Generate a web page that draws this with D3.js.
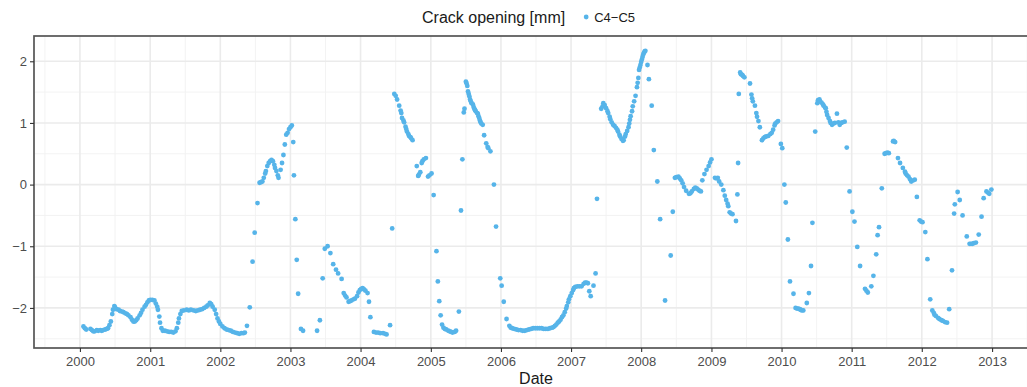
<!DOCTYPE html>
<html>
<head>
<meta charset="utf-8">
<script src="https://cdn.jsdelivr.net/npm/d3@7"></script>
<style>
  html, body { margin: 0; padding: 0; background: #ffffff; }
  svg { display: block; font-family: "Liberation Sans", Arial, sans-serif; }
</style>
</head>
<body>
<svg id="chart" width="1027" height="387"></svg>
<script>
// Crack opening readings for the C4-C5 gauge: [decimal year, opening in mm]
const c4c5 = [
  [2000.05,-2.30],[2000.07,-2.33],[2000.09,-2.35],[2000.15,-2.34],[2000.17,-2.36],[2000.19,-2.38],
  [2000.21,-2.38],[2000.24,-2.36],[2000.26,-2.37],[2000.29,-2.36],[2000.31,-2.37],[2000.33,-2.36],
  [2000.36,-2.35],[2000.38,-2.34],[2000.40,-2.33],[2000.42,-2.28],[2000.44,-2.22],[2000.46,-2.10],
  [2000.47,-2.03],[2000.49,-1.97],[2000.50,-1.99],[2000.52,-2.02],[2000.55,-2.03],[2000.57,-2.05],
  [2000.60,-2.06],[2000.62,-2.07],[2000.65,-2.09],[2000.67,-2.10],[2000.69,-2.12],[2000.72,-2.15],
  [2000.74,-2.19],[2000.76,-2.22],[2000.78,-2.22],[2000.80,-2.20],[2000.82,-2.17],[2000.85,-2.12],
  [2000.87,-2.08],[2000.89,-2.03],[2000.92,-1.98],[2000.94,-1.95],[2000.96,-1.91],[2000.98,-1.88],
  [2001.00,-1.87],[2001.03,-1.87],[2001.06,-1.88],[2001.08,-1.93],[2001.10,-1.98],[2001.11,-2.03],
  [2001.13,-2.14],[2001.14,-2.24],[2001.16,-2.33],[2001.18,-2.37],[2001.21,-2.37],[2001.24,-2.38],
  [2001.27,-2.39],[2001.30,-2.39],[2001.33,-2.40],[2001.36,-2.38],[2001.38,-2.33],[2001.40,-2.24],
  [2001.41,-2.17],[2001.43,-2.10],[2001.45,-2.05],[2001.48,-2.04],[2001.52,-2.03],[2001.55,-2.04],
  [2001.58,-2.03],[2001.62,-2.04],[2001.65,-2.05],[2001.68,-2.04],[2001.71,-2.03],[2001.74,-2.02],
  [2001.77,-2.00],[2001.80,-1.98],[2001.82,-1.96],[2001.85,-1.92],[2001.87,-1.94],[2001.89,-1.98],
  [2001.92,-2.03],[2001.94,-2.10],[2001.96,-2.17],[2001.98,-2.22],[2002.00,-2.26],[2002.03,-2.30],
  [2002.06,-2.33],[2002.09,-2.35],[2002.12,-2.36],[2002.15,-2.37],[2002.18,-2.39],[2002.21,-2.40],
  [2002.24,-2.41],[2002.27,-2.42],[2002.30,-2.41],[2002.33,-2.41],[2002.35,-2.40],[2002.38,-2.29],
  [2002.42,-1.99],[2002.46,-1.25],[2002.49,-0.78],[2002.53,-0.30],[2002.56,0.03],[2002.58,0.04],
  [2002.60,0.05],[2002.62,0.11],[2002.64,0.18],[2002.65,0.22],[2002.67,0.30],[2002.69,0.35],
  [2002.71,0.38],[2002.73,0.40],[2002.75,0.38],[2002.77,0.32],[2002.78,0.27],[2002.80,0.22],
  [2002.82,0.15],[2002.83,0.11],[2002.86,0.24],[2002.88,0.35],[2002.90,0.48],[2002.92,0.65],
  [2002.94,0.81],[2002.96,0.84],[2002.98,0.90],[2003.00,0.93],[2003.02,0.96],[2003.04,0.69],
  [2003.05,0.15],[2003.07,-0.56],[2003.09,-1.22],[2003.11,-1.77],[2003.15,-2.34],[2003.18,-2.37],
  [2003.38,-2.37],[2003.42,-2.20],[2003.46,-1.52],[2003.49,-1.04],[2003.53,-1.00],[2003.57,-1.11],
  [2003.61,-1.29],[2003.65,-1.38],[2003.68,-1.44],[2003.73,-1.53],[2003.76,-1.76],[2003.78,-1.80],
  [2003.80,-1.83],[2003.83,-1.90],[2003.85,-1.89],[2003.87,-1.88],[2003.90,-1.86],[2003.92,-1.85],
  [2003.95,-1.81],[2003.97,-1.75],[2003.99,-1.71],[2004.01,-1.69],[2004.03,-1.68],[2004.05,-1.70],
  [2004.07,-1.72],[2004.10,-1.76],[2004.12,-1.90],[2004.14,-2.15],[2004.19,-2.39],[2004.22,-2.40],
  [2004.25,-2.40],[2004.28,-2.41],[2004.32,-2.41],[2004.35,-2.42],[2004.37,-2.43],[2004.42,-2.28],
  [2004.45,-0.71],[2004.48,1.47],[2004.50,1.44],[2004.52,1.38],[2004.55,1.28],[2004.57,1.20],
  [2004.58,1.16],[2004.59,1.08],[2004.61,1.04],[2004.62,1.01],[2004.64,0.94],[2004.65,0.90],
  [2004.66,0.86],[2004.68,0.82],[2004.69,0.79],[2004.71,0.77],[2004.72,0.75],[2004.74,0.72],
  [2004.80,0.30],[2004.82,0.14],[2004.83,0.16],[2004.85,0.20],[2004.87,0.35],[2004.88,0.38],
  [2004.90,0.41],[2004.93,0.43],[2004.96,0.13],[2004.98,0.15],[2005.01,0.18],[2005.04,-0.17],
  [2005.08,-1.08],[2005.10,-1.57],[2005.12,-1.89],[2005.14,-2.12],[2005.16,-2.27],[2005.18,-2.32],
  [2005.20,-2.34],[2005.22,-2.35],[2005.25,-2.37],[2005.27,-2.38],[2005.29,-2.39],[2005.31,-2.40],
  [2005.34,-2.39],[2005.36,-2.37],[2005.40,-2.06],[2005.43,-0.42],[2005.45,0.41],[2005.47,1.17],
  [2005.48,1.23],[2005.50,1.67],[2005.51,1.64],[2005.52,1.60],[2005.53,1.51],[2005.54,1.47],
  [2005.55,1.43],[2005.56,1.38],[2005.57,1.35],[2005.58,1.32],[2005.60,1.30],[2005.61,1.26],
  [2005.62,1.23],[2005.63,1.21],[2005.64,1.19],[2005.66,1.16],[2005.67,1.15],[2005.68,1.11],
  [2005.69,1.08],[2005.70,1.04],[2005.71,1.01],[2005.72,0.99],[2005.74,0.97],[2005.76,0.80],
  [2005.79,0.67],[2005.81,0.61],[2005.82,0.59],[2005.85,0.54],[2005.90,0.00],[2005.93,-0.68],
  [2005.99,-1.52],[2006.01,-1.64],[2006.04,-1.90],[2006.08,-2.18],[2006.12,-2.29],[2006.14,-2.32],
  [2006.16,-2.33],[2006.19,-2.34],[2006.22,-2.35],[2006.25,-2.36],[2006.28,-2.36],[2006.31,-2.37],
  [2006.34,-2.37],[2006.37,-2.36],[2006.40,-2.35],[2006.43,-2.34],[2006.46,-2.33],[2006.49,-2.33],
  [2006.52,-2.33],[2006.55,-2.33],[2006.58,-2.33],[2006.61,-2.34],[2006.64,-2.34],[2006.67,-2.34],
  [2006.70,-2.33],[2006.73,-2.32],[2006.75,-2.31],[2006.77,-2.29],[2006.79,-2.27],[2006.81,-2.24],
  [2006.83,-2.22],[2006.85,-2.19],[2006.87,-2.15],[2006.89,-2.12],[2006.91,-2.07],[2006.93,-2.01],
  [2006.94,-1.97],[2006.96,-1.91],[2006.97,-1.86],[2006.99,-1.81],[2007.01,-1.76],[2007.03,-1.71],
  [2007.04,-1.68],[2007.06,-1.66],[2007.09,-1.65],[2007.12,-1.65],[2007.15,-1.65],[2007.18,-1.61],
  [2007.20,-1.59],[2007.22,-1.59],[2007.24,-1.60],[2007.26,-1.73],[2007.28,-1.81],[2007.32,-1.64],
  [2007.35,-1.44],[2007.37,-0.23],[2007.43,1.23],[2007.45,1.27],[2007.46,1.32],[2007.48,1.29],
  [2007.50,1.24],[2007.52,1.19],[2007.53,1.16],[2007.55,1.10],[2007.56,1.06],[2007.58,1.01],
  [2007.60,0.97],[2007.62,0.95],[2007.64,0.92],[2007.66,0.89],[2007.67,0.86],[2007.69,0.81],
  [2007.70,0.78],[2007.72,0.74],[2007.74,0.71],[2007.75,0.72],[2007.77,0.78],[2007.78,0.82],
  [2007.80,0.87],[2007.82,0.93],[2007.83,0.99],[2007.84,1.05],[2007.85,1.11],[2007.87,1.19],
  [2007.88,1.27],[2007.90,1.35],[2007.92,1.44],[2007.94,1.58],[2007.95,1.65],[2007.96,1.73],
  [2007.97,1.86],[2007.98,1.90],[2007.99,1.94],[2008.00,1.99],[2008.01,2.03],[2008.02,2.07],
  [2008.03,2.11],[2008.04,2.14],[2008.05,2.16],[2008.06,2.17],[2008.09,1.94],[2008.11,1.71],
  [2008.15,1.28],[2008.18,0.56],[2008.23,0.05],[2008.27,-0.56],[2008.34,-1.88],[2008.42,-1.15],
  [2008.45,-0.44],[2008.48,0.11],[2008.50,0.12],[2008.53,0.13],[2008.55,0.10],[2008.57,0.07],
  [2008.59,0.02],[2008.61,-0.04],[2008.64,-0.10],[2008.68,-0.15],[2008.70,-0.14],[2008.72,-0.11],
  [2008.75,-0.07],[2008.77,-0.05],[2008.79,-0.06],[2008.81,-0.08],[2008.83,-0.10],[2008.85,-0.11],
  [2008.87,0.07],[2008.90,0.17],[2008.93,0.24],[2008.96,0.30],[2008.98,0.36],[2009.00,0.41],
  [2009.05,0.11],[2009.07,0.10],[2009.09,0.11],[2009.11,0.05],[2009.14,0.00],[2009.17,-0.09],
  [2009.19,-0.18],[2009.21,-0.25],[2009.23,-0.31],[2009.24,-0.35],[2009.26,-0.45],[2009.28,-0.47],
  [2009.30,-0.48],[2009.35,-0.59],[2009.37,-0.16],[2009.38,0.35],[2009.39,1.47],[2009.41,1.82],
  [2009.42,1.79],[2009.44,1.78],[2009.45,1.76],[2009.47,1.74],[2009.55,1.64],[2009.57,1.46],
  [2009.58,1.40],[2009.59,1.35],[2009.62,1.28],[2009.64,1.16],[2009.65,1.10],[2009.67,1.03],
  [2009.69,0.93],[2009.72,0.72],[2009.74,0.75],[2009.76,0.77],[2009.78,0.78],[2009.81,0.79],
  [2009.84,0.82],[2009.86,0.84],[2009.88,0.89],[2009.90,0.96],[2009.91,0.99],[2009.93,1.01],
  [2009.95,1.03],[2009.99,0.66],[2010.01,0.59],[2010.04,0.00],[2010.06,-0.29],[2010.09,-0.89],
  [2010.12,-1.57],[2010.17,-1.77],[2010.20,-2.00],[2010.22,-2.01],[2010.24,-2.01],[2010.26,-2.02],
  [2010.27,-2.03],[2010.29,-2.04],[2010.31,-2.04],[2010.36,-1.92],[2010.39,-1.76],[2010.42,-1.32],
  [2010.44,-0.62],[2010.48,0.86],[2010.51,1.32],[2010.52,1.37],[2010.54,1.38],[2010.55,1.35],
  [2010.57,1.33],[2010.59,1.30],[2010.60,1.28],[2010.62,1.25],[2010.63,1.24],[2010.64,1.18],
  [2010.65,1.13],[2010.67,1.08],[2010.69,1.03],[2010.70,1.00],[2010.72,0.97],[2010.74,0.99],
  [2010.76,1.00],[2010.79,1.15],[2010.81,1.01],[2010.83,0.97],[2010.85,1.00],[2010.87,1.01],
  [2010.90,1.02],[2010.93,0.60],[2010.97,-0.11],[2011.01,-0.44],[2011.04,-0.60],[2011.08,-1.01],
  [2011.12,-1.32],[2011.19,-1.69],[2011.21,-1.72],[2011.23,-1.75],[2011.28,-1.65],[2011.31,-1.48],
  [2011.35,-1.13],[2011.37,-0.82],[2011.39,-0.69],[2011.43,-0.06],[2011.47,0.50],[2011.49,0.51],
  [2011.51,0.52],[2011.53,0.51],[2011.59,0.70],[2011.60,0.71],[2011.62,0.69],[2011.66,0.43],
  [2011.69,0.35],[2011.73,0.27],[2011.76,0.21],[2011.77,0.18],[2011.79,0.15],[2011.81,0.13],
  [2011.83,0.09],[2011.85,0.05],[2011.88,0.07],[2011.90,0.08],[2011.93,-0.20],[2011.97,-0.58],
  [2011.99,-0.60],[2012.01,-0.61],[2012.05,-0.77],[2012.08,-1.21],[2012.12,-1.86],[2012.15,-2.04],
  [2012.17,-2.08],[2012.18,-2.11],[2012.20,-2.13],[2012.23,-2.16],[2012.25,-2.18],[2012.28,-2.20],
  [2012.30,-2.21],[2012.33,-2.23],[2012.36,-2.24],[2012.39,-2.02],[2012.43,-1.39],[2012.46,-0.47],
  [2012.47,-0.32],[2012.51,-0.12],[2012.54,-0.25],[2012.58,-0.50],[2012.64,-0.84],[2012.68,-0.96],
  [2012.70,-0.96],[2012.72,-0.96],[2012.74,-0.95],[2012.77,-0.94],[2012.81,-0.81],[2012.85,-0.52],
  [2012.88,-0.22],[2012.92,-0.11],[2012.94,-0.13],[2012.96,-0.15],[2012.99,-0.08]
];

// Axis breaks and labels
const yearTicks = [2000, 2001, 2002, 2003, 2004, 2005, 2006, 2007, 2008, 2009, 2010, 2011, 2012, 2013];
const valueTicks = [-2, -1, 0, 1, 2];
const valueMinor = [-2.5, -1.5, -0.5, 0.5, 1.5];
const xDomainYears = [1999.345, 2013.655];
const yDomain = [-2.65, 2.41];
const legendTitle = "Crack opening [mm]";
const seriesName = "C4\u2212C5";
const axisTitleX = "Date";

// decimal year -> Date
function toDate(y) {
  const yr = Math.floor(y);
  const start = Date.UTC(yr, 0, 1), end = Date.UTC(yr + 1, 0, 1);
  return new Date(start + (y - yr) * (end - start));
}

const svg = d3.select("#chart");
const panel = { left: 34, top: 36, right: 1038, bottom: 348 };
const pointColor = "#56B4E9";

const x = d3.scaleUtc()
  .domain(xDomainYears.map(toDate))
  .range([panel.left, panel.right]);
const y = d3.scaleLinear()
  .domain(yDomain)
  .range([panel.bottom, panel.top]);

const defs = svg.append("defs");
defs.append("clipPath").attr("id", "panelClip")
  .append("rect")
  .attr("x", panel.left).attr("y", panel.top)
  .attr("width", panel.right - panel.left).attr("height", panel.bottom - panel.top);

// panel background
svg.append("rect")
  .attr("x", panel.left).attr("y", panel.top)
  .attr("width", panel.right - panel.left).attr("height", panel.bottom - panel.top)
  .attr("fill", "#ffffff");

const grid = svg.append("g").attr("clip-path", "url(#panelClip)");
const minorYears = yearTicks.slice(0, -1).map(v => v + 0.5).concat([1999.5, 2013.5]);

// minor grid
grid.selectAll("line.vminor").data(minorYears).join("line")
  .attr("x1", d => x(toDate(d))).attr("x2", d => x(toDate(d)))
  .attr("y1", panel.top).attr("y2", panel.bottom)
  .attr("stroke", "#F2F2F2").attr("stroke-width", 0.9);
grid.selectAll("line.hminor").data(valueMinor).join("line")
  .attr("y1", d => y(d)).attr("y2", d => y(d))
  .attr("x1", panel.left).attr("x2", panel.right)
  .attr("stroke", "#F2F2F2").attr("stroke-width", 0.9);

// major grid
grid.selectAll("line.vmajor").data(yearTicks).join("line")
  .attr("x1", d => x(toDate(d))).attr("x2", d => x(toDate(d)))
  .attr("y1", panel.top).attr("y2", panel.bottom)
  .attr("stroke", "#EBEBEB").attr("stroke-width", 1.6);
grid.selectAll("line.hmajor").data(valueTicks).join("line")
  .attr("y1", d => y(d)).attr("y2", d => y(d))
  .attr("x1", panel.left).attr("x2", panel.right)
  .attr("stroke", "#EBEBEB").attr("stroke-width", 1.6);

// observations
svg.append("g").attr("clip-path", "url(#panelClip)")
  .selectAll("circle").data(c4c5).join("circle")
  .attr("cx", d => x(toDate(d[0])))
  .attr("cy", d => y(d[1]))
  .attr("r", 2.4)
  .attr("fill", pointColor);

// panel border
svg.append("rect")
  .attr("x", panel.left).attr("y", panel.top)
  .attr("width", panel.right - panel.left).attr("height", panel.bottom - panel.top)
  .attr("fill", "none").attr("stroke", "#555555").attr("stroke-width", 1.7);

// axes
const xAxis = d3.axisBottom(x)
  .tickValues(yearTicks.map(toDate))
  .tickFormat(d3.utcFormat("%Y"))
  .tickSize(4).tickPadding(5);
const gx = svg.append("g").attr("transform", `translate(0,${panel.bottom})`).call(xAxis);
gx.select(".domain").remove();
gx.selectAll(".tick line").attr("stroke", "#333333").attr("stroke-width", 1.1);
gx.selectAll(".tick text").attr("fill", "#4D4D4D").attr("font-size", 13)
  .attr("font-family", "'Liberation Sans', Arial, sans-serif");

const yAxis = d3.axisLeft(y)
  .tickValues(valueTicks)
  .tickFormat(d3.format("d"))
  .tickSize(4).tickPadding(3);
const gy = svg.append("g").attr("transform", `translate(${panel.left},0)`).call(yAxis);
gy.select(".domain").remove();
gy.selectAll(".tick line").attr("stroke", "#333333").attr("stroke-width", 1.1);
gy.selectAll(".tick text").attr("fill", "#4D4D4D").attr("font-size", 13)
  .attr("font-family", "'Liberation Sans', Arial, sans-serif");

// x axis title
svg.append("text")
  .attr("x", (panel.left + panel.right) / 2).attr("y", 383.5)
  .attr("text-anchor", "middle").attr("font-size", 16).attr("fill", "#1a1a1a")
  .text(axisTitleX);

// legend on top
const legend = svg.append("g");
const lt = legend.append("text")
  .attr("x", 422).attr("y", 22.5)
  .attr("font-size", 16).attr("fill", "#1a1a1a")
  .text(legendTitle);
const titleEnd = 422 + lt.node().getComputedTextLength();
legend.append("circle")
  .attr("cx", titleEnd + 21).attr("cy", 17)
  .attr("r", 2.4).attr("fill", pointColor);
legend.append("text")
  .attr("x", titleEnd + 29).attr("y", 21.7)
  .attr("font-size", 13).attr("fill", "#1a1a1a")
  .text(seriesName);
</script>
</body>
</html>
